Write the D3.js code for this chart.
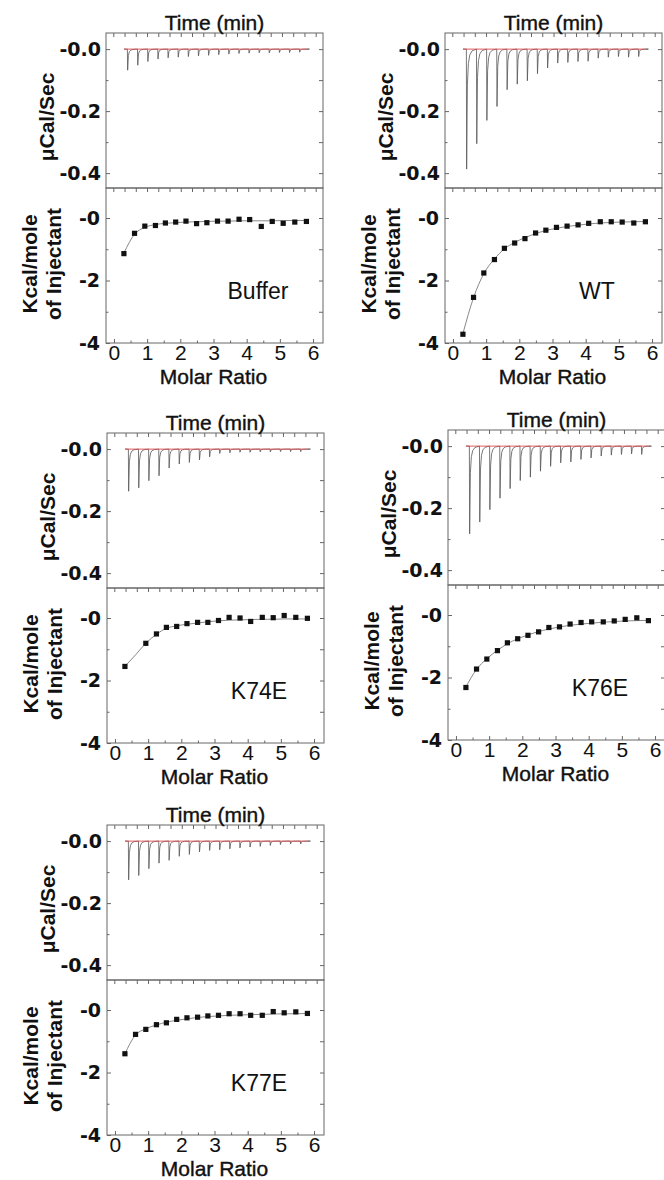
<!DOCTYPE html>
<meta charset="utf-8">
<style>
body { margin: 0; background: #fff; }
svg { display: block; }
.frame { fill: none; stroke: #666; stroke-width: 1px; }
.axis path { display: none; }
.axis line { stroke: #666; stroke-width: 1px; }
.ytick text { font: bold 19px "DejaVu Sans", sans-serif; fill: #111; }
.xtick text { font: 21px "Liberation Sans", Arial, sans-serif; fill: #111; }
.title { font: 21px "Liberation Sans", Arial, sans-serif; fill: #111; stroke: #111; stroke-width: 0.4px; }
.ylab { font: bold 21px "Liberation Sans", Arial, sans-serif; fill: #111; }
.tag { font: 23px "Liberation Sans", Arial, sans-serif; fill: #111; }
.trace { fill: none; stroke: #555; stroke-width: 0.8px; }
.base { fill: none; stroke: #e0474c; stroke-width: 0.9px; }
.fit { fill: none; stroke: #888; stroke-width: 1px; }
</style>
<script src="https://d3js.org/d3.v7.min.js"></script>
<body>
<script>
// injection times (min) and molar ratios shared by all runs
var injTime = [12.5, 21.5, 30.5, 39.5, 48.5, 57.5, 66.5, 75.5, 84.5, 93.5, 102.5, 111.5, 120.5, 129.5, 138.5, 147.5, 156.5, 165.5];
var molarRatio = [0.30, 0.62, 0.93, 1.25, 1.55, 1.86, 2.17, 2.49, 2.80, 3.12, 3.44, 3.77, 4.09, 4.44, 4.77, 5.10, 5.45, 5.80];

// raw peak depth of each injection (ucal/sec)
var bufferPeak = [-0.068, -0.052, -0.040, -0.032, -0.028, -0.026, -0.024, -0.022, -0.020, -0.018, -0.016, -0.014, -0.013, -0.012, -0.012, -0.011, -0.011, -0.010];
var wtPeak = [-0.387, -0.305, -0.230, -0.185, -0.131, -0.113, -0.102, -0.079, -0.061, -0.045, -0.043, -0.040, -0.039, -0.029, -0.026, -0.024, -0.026, -0.024];
var k74ePeak = [-0.136, -0.125, -0.102, -0.086, -0.061, -0.048, -0.043, -0.035, -0.025, -0.014, -0.012, -0.010, -0.010, -0.009, -0.009, -0.008, -0.008, -0.008];
var k76ePeak = [-0.283, -0.245, -0.205, -0.168, -0.137, -0.111, -0.100, -0.081, -0.065, -0.054, -0.051, -0.043, -0.038, -0.032, -0.029, -0.027, -0.025, -0.027];
var k77ePeak = [-0.125, -0.111, -0.089, -0.071, -0.062, -0.049, -0.043, -0.035, -0.030, -0.028, -0.025, -0.022, -0.019, -0.017, -0.014, -0.011, -0.009, -0.009];

// integrated heats (kcal/mole of injectant) and fitted curve
var bufferHeat = [-1.14, -0.49, -0.26, -0.24, -0.16, -0.13, -0.10, -0.18, -0.15, -0.10, -0.10, -0.04, -0.05, -0.27, -0.11, -0.17, -0.13, -0.11];
var bufferFit = [-1.12, -0.52, -0.30, -0.21, -0.17, -0.15, -0.13, -0.12, -0.11, -0.10, -0.10, -0.09, -0.09, -0.09, -0.09, -0.08, -0.08, -0.08];
var wtHeat = [-3.72, -2.54, -1.76, -1.33, -0.97, -0.80, -0.66, -0.48, -0.39, -0.30, -0.26, -0.22, -0.17, -0.12, -0.12, -0.13, -0.16, -0.12];
var wtFit = [-3.70, -2.55, -1.78, -1.31, -0.99, -0.78, -0.63, -0.50, -0.40, -0.33, -0.27, -0.23, -0.19, -0.16, -0.14, -0.13, -0.12, -0.11];
var k74eHeat = [-1.55, null, -0.81, -0.51, -0.30, -0.27, -0.18, -0.14, -0.14, -0.08, 0.02, 0.00, -0.11, 0.02, 0.01, 0.08, 0.02, -0.01];
var k74eFit = [-1.55, -1.18, -0.81, -0.52, -0.33, -0.25, -0.20, -0.16, -0.12, -0.09, -0.07, -0.06, -0.05, -0.04, -0.04, -0.03, -0.03, -0.03];
var k76eHeat = [-2.32, -1.73, -1.41, -1.14, -0.89, -0.76, -0.65, -0.54, -0.40, -0.38, -0.29, -0.24, -0.22, -0.22, -0.19, -0.14, -0.09, -0.18];
var k76eFit = [-2.30, -1.74, -1.40, -1.13, -0.92, -0.76, -0.64, -0.53, -0.45, -0.38, -0.33, -0.29, -0.26, -0.23, -0.21, -0.19, -0.18, -0.17];
var k77eHeat = [-1.40, -0.78, -0.62, -0.47, -0.41, -0.30, -0.25, -0.23, -0.19, -0.17, -0.12, -0.12, -0.17, -0.17, -0.05, -0.09, -0.06, -0.11];
var k77eFit = [-1.40, -0.80, -0.60, -0.48, -0.39, -0.33, -0.28, -0.24, -0.21, -0.19, -0.17, -0.16, -0.15, -0.14, -0.13, -0.12, -0.12, -0.11];

var names = ["Buffer", "WT", "K74E", "K76E", "K77E"];
var peaks = [bufferPeak, wtPeak, k74ePeak, k76ePeak, k77ePeak];
var heats = [bufferHeat, wtHeat, k74eHeat, k76eHeat, k77eHeat];
var fits = [bufferFit, wtFit, k74eFit, k76eFit, k77eFit];

// panel placement
var origins = [[106, 33], [445, 33], [107, 433], [448, 430], [107, 825]];
var W = 217, H = 155;

// shape of one injection peak: [minutes after injection, fraction of depth]
var spikeShape = [[0, 0], [0.25, 1], [0.9, 0.3], [1.8, 0.12], [3, 0.05], [5, 0.015], [8.9, 0]];

var svg = d3.select("body").append("svg")
    .attr("width", 664)
    .attr("height", 1180);

var t = d3.scaleLinear().domain([-6.5, 186.5]).range([0, W]);
var yRaw = d3.scaleLinear().domain([-0.448, 0.052]).range([H, 0]);
var x = d3.scaleLinear().domain([-0.24, 6.3]).range([0, W]);
var yHeat = d3.scaleLinear().domain([-4, 0.96]).range([H, 0]);

function drawPanel(i) {
  var g = svg.append("g").attr("transform", "translate(" + origins[i][0] + "," + origins[i][1] + ")");
  var top = g.append("g");
  var bot = g.append("g").attr("transform", "translate(0," + H + ")");

  // ---- raw thermogram ----
  var pts = [[9.5, 0]];
  injTime.forEach(function(ti, k) {
    spikeShape.forEach(function(s) { pts.push([ti + s[0], peaks[i][k] * s[1]]); });
  });
  pts.push([172, 0]);
  top.append("path").attr("class", "trace")
    .attr("d", d3.line().x(d => t(d[0])).y(d => yRaw(d[1]))(pts));
  top.append("path").attr("class", "base")
    .attr("d", d3.line().x(d => t(d[0])).y(d => yRaw(d[1]))([[9.5, 0], [172, 0]]));

  top.append("rect").attr("class", "frame").attr("width", W).attr("height", H);

  var timeTicks = d3.range(0, 181, 10);
  top.append("g").attr("class", "axis")
    .call(d3.axisTop(t).tickValues(timeTicks).tickSize(-4).tickFormat(""));
  top.append("g").attr("class", "axis").attr("transform", "translate(0," + H + ")")
    .call(d3.axisBottom(t).tickValues(timeTicks).tickSize(4).tickFormat(""));
  top.append("g").attr("class", "axis ytick")
    .call(d3.axisLeft(yRaw).tickValues([0, -0.2, -0.4]).tickSize(-4).tickPadding(5)
      .tickFormat(d => "-" + Math.abs(d).toFixed(1)));
  top.append("g").attr("class", "axis")
    .call(d3.axisLeft(yRaw).tickValues([-0.1, -0.3]).tickSize(-2.5).tickFormat(""));
  top.append("g").attr("class", "axis").attr("transform", "translate(" + W + ",0)")
    .call(d3.axisRight(yRaw).tickValues([0, -0.1, -0.2, -0.3, -0.4]).tickSize(-4).tickFormat(""));

  top.append("text").attr("class", "title")
    .attr("x", W / 2).attr("y", -3).attr("text-anchor", "middle")
    .text("Time (min)");
  top.append("text").attr("class", "ylab")
    .attr("transform", "translate(-60,84) rotate(-90)")
    .attr("text-anchor", "middle").attr("dominant-baseline", "central")
    .text("\u03bcCal/Sec");

  // ---- integrated heats ----
  var fitPts = molarRatio.map((m, k) => [m, fits[i][k]]);
  bot.append("path").attr("class", "fit")
    .attr("d", d3.line().curve(d3.curveMonotoneX).x(d => x(d[0])).y(d => yHeat(d[1]))(fitPts));

  var heatPts = molarRatio.map((m, k) => [m, heats[i][k]]).filter(d => d[1] !== null);
  bot.selectAll("rect.pt").data(heatPts).enter().append("rect")
    .attr("class", "pt")
    .attr("x", d => x(d[0]) - 2.6)
    .attr("y", d => yHeat(d[1]) - 2.6)
    .attr("width", 5.2).attr("height", 5.2)
    .attr("fill", "#111");

  bot.append("rect").attr("class", "frame").attr("width", W).attr("height", H);

  bot.append("g").attr("class", "axis xtick").attr("transform", "translate(0," + H + ")")
    .call(d3.axisBottom(x).tickValues(d3.range(0, 7)).tickSize(-4).tickPadding(2).tickFormat(d3.format("d")));
  bot.append("g").attr("class", "axis").attr("transform", "translate(0," + H + ")")
    .call(d3.axisBottom(x).tickValues(d3.range(0.5, 6.5, 1)).tickSize(-2.5).tickFormat(""));
  bot.append("g").attr("class", "axis ytick")
    .call(d3.axisLeft(yHeat).tickValues([0, -2, -4]).tickSize(-4).tickPadding(6)
      .tickFormat(d => "-" + Math.abs(d)));
  bot.append("g").attr("class", "axis")
    .call(d3.axisLeft(yHeat).tickValues([-1, -3]).tickSize(-2.5).tickFormat(""));
  bot.append("g").attr("class", "axis").attr("transform", "translate(" + W + ",0)")
    .call(d3.axisRight(yHeat).tickValues([0, -1, -2, -3]).tickSize(-4).tickFormat(""));

  bot.append("text").attr("class", "title")
    .attr("x", x(3)).attr("y", H + 41).attr("text-anchor", "middle")
    .text("Molar Ratio");
  bot.append("text").attr("class", "ylab")
    .attr("transform", "translate(-77,76) rotate(-90)")
    .attr("text-anchor", "middle").attr("dominant-baseline", "central")
    .text("Kcal/mole");
  bot.append("text").attr("class", "ylab")
    .attr("transform", "translate(-53,76) rotate(-90)")
    .attr("text-anchor", "middle").attr("dominant-baseline", "central")
    .text("of Injectant");

  bot.append("text").attr("class", "tag")
    .attr("x", 152).attr("y", 103).attr("text-anchor", "middle").attr("dominant-baseline", "central")
    .text(names[i]);
}

names.forEach(function(n, i) { drawPanel(i); });
</script>
